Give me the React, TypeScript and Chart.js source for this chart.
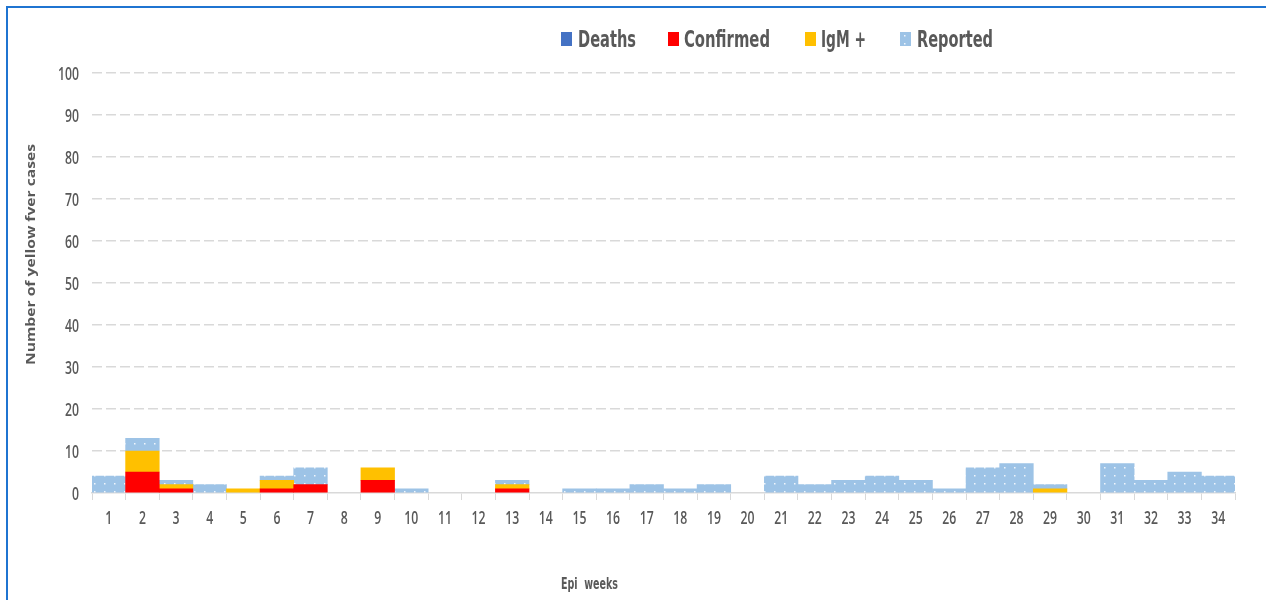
import React, { useEffect, useRef } from "react";
import { Chart, registerables } from "chart.js";

Chart.register(...registerables);

const weeks = ["1","2","3","4","5","6","7","8","9","10","11","12","13","14","15","16","17","18","19","20","21","22","23","24","25","26","27","28","29","30","31","32","33","34"];
const deaths = [0,0,0,0,0,0,0,0,0,0,0,0,0,0,0,0,0,0,0,0,0,0,0,0,0,0,0,0,0,0,0,0,0,0];
const confirmed = [0,5,1,0,0,1,2,0,3,0,0,0,1,0,0,0,0,0,0,0,0,0,0,0,0,0,0,0,0,0,0,0,0,0];
const igmPositive = [0,5,1,0,1,2,0,0,3,0,0,0,1,0,0,0,0,0,0,0,0,0,0,0,0,0,0,0,1,0,0,0,0,0];
const reported = [4,3,1,2,0,1,4,0,0,1,0,0,1,0,1,1,2,1,2,0,4,2,3,4,3,1,6,7,1,0,7,3,5,4];
const yTicks = [0,10,20,30,40,50,60,70,80,90,100];

const FONT = "'Liberation Sans Narrow', 'DejaVu Sans Condensed', 'Arial Narrow', sans-serif";
const TICK_FONT = "600 18px 'Open Sans', 'Noto Sans', sans-serif";
const TICK_SX = 0.68;
const TEXT = "#595959";

function makePattern(): CanvasPattern | string {
  const c = document.createElement("canvas");
  c.width = 10;
  c.height = 8;
  const g = c.getContext("2d");
  if (!g) return "#9dc3e6";
  g.fillStyle = "#9dc3e6";
  g.fillRect(0, 0, 10, 8);
  g.fillStyle = "rgba(255,255,255,0.85)";
  g.fillRect(4, 3, 1.5, 1.5);
  return g.createPattern(c, "repeat") || "#9dc3e6";
}

function fitText(ctx: CanvasRenderingContext2D, text: string, x: number, y: number, w: number, font: string, color: string) {
  ctx.save();
  ctx.font = font;
  const m = ctx.measureText(text).width;
  ctx.translate(x, y);
  ctx.scale(w / m, 1);
  ctx.fillStyle = color;
  ctx.textAlign = "left";
  ctx.textBaseline = "alphabetic";
  ctx.fillText(text, 0, 0);
  ctx.restore();
}

function squeezeText(ctx: CanvasRenderingContext2D, text: string, x: number, y: number, align: CanvasTextAlign) {
  ctx.save();
  ctx.font = TICK_FONT;
  ctx.fillStyle = TEXT;
  ctx.translate(x, y);
  ctx.scale(TICK_SX, 1);
  ctx.textAlign = align;
  ctx.textBaseline = "alphabetic";
  ctx.fillText(text, 0, 0);
  ctx.restore();
}

const legendLayout = [
  { box: 561, text: 578, w: 58 },
  { box: 668, text: 684, w: 86 },
  { box: 805, text: 821, w: 45 },
  { box: 900, text: 917, w: 76 },
];

const textPlugin = {
  id: "customTexts",
  afterDraw(chart: any) {
    const ctx: CanvasRenderingContext2D = chart.ctx;
    const xs = chart.scales.x;
    const ys = chart.scales.y;
    // tick labels
    ys.ticks.forEach((t: any) => {
      squeezeText(ctx, String(t.value), 79, ys.getPixelForValue(t.value) + 6.5, "right");
    });
    chart.data.labels.forEach((lab: string, i: number) => {
      squeezeText(ctx, lab, xs.getPixelForTick(i), 524, "center");
    });
    // legend
    chart.data.datasets.forEach((ds: any, i: number) => {
      const l = legendLayout[i];
      ctx.save();
      ctx.fillStyle = ds.backgroundColor;
      ctx.fillRect(l.box, 32, 11, 14);
      ctx.restore();
      fitText(ctx, ds.label, l.text, 47, l.w, `bold 23px ${FONT}`, TEXT);
    });
    fitText(ctx, "Epi  weeks", 561, 589, 57, `bold 15px ${FONT}`, TEXT);
    ctx.save();
    ctx.translate(35, 365);
    ctx.rotate(-Math.PI / 2);
    fitText(ctx, "Number of yellow fver cases", 0, 0, 221, `bold 13px 'Open Sans', sans-serif`, TEXT);
    ctx.restore();
  },
};

const nz = (arr: number[]) => arr.map((v) => (v === 0 ? null : v));

export default function App() {
  const ref = useRef<HTMLCanvasElement>(null);
  useEffect(() => {
    if (!ref.current) return;
    const pattern = makePattern();
    const chart = new Chart(ref.current, {
      type: "bar",
      data: {
        labels: weeks,
        datasets: [
          { label: "Deaths", data: nz(deaths), backgroundColor: "#4472c4" },
          { label: "Confirmed", data: nz(confirmed), backgroundColor: "#ff0000" },
          { label: "IgM +", data: nz(igmPositive), backgroundColor: "#ffc000" },
          { label: "Reported", data: nz(reported), backgroundColor: pattern as any },
        ],
      },
      options: {
        animation: false,
        responsive: false,
        maintainAspectRatio: false,
        layout: { padding: { top: 73, right: 31, left: 0, bottom: 0 } },
        datasets: { bar: { barPercentage: 1, categoryPercentage: 1, borderWidth: 0 } },
        plugins: { legend: { display: false }, tooltip: { enabled: false }, title: { display: false } },
        scales: {
          x: {
            stacked: true,
            afterFit: (s: any) => { s.height = 107; },
            grid: { offset: true, drawOnChartArea: false, drawTicks: true, tickLength: 7, color: "#d9d9d9", lineWidth: 1 },
            border: { display: true, color: "#d9d9d9", width: 1.5 },
            ticks: { display: false, autoSkip: false },
          },
          y: {
            stacked: true,
            min: 0,
            max: 100,
            afterFit: (s: any) => { s.width = 92; },
            afterBuildTicks: (s: any) => { s.ticks = yTicks.map((v) => ({ value: v })); },
            grid: {
              drawTicks: false,
              color: (c: any) => (c.tick && c.tick.value === 0 ? "rgba(0,0,0,0)" : "#d9d9d9"),
              lineWidth: 1.5,
            },
            border: { display: false, dash: [10, 4] },
            ticks: { display: false, stepSize: 10 },
          },
        },
      },
      plugins: [textPlugin],
    });
    return () => chart.destroy();
  }, []);
  return (
    <div style={{ position: "fixed", left: 0, top: 0, width: 1266, height: 600, background: "#fff", overflow: "hidden" }}>
      <div style={{ position: "absolute", left: 6, top: 6, width: 1270, height: 600, borderTop: "2px solid #1f74d1", borderLeft: "2px solid #1f74d1", boxSizing: "border-box" }} />
      <canvas ref={ref} width={1266} height={600} style={{ position: "absolute", left: 0, top: 0, width: 1266, height: 600 }} />
    </div>
  );
}
